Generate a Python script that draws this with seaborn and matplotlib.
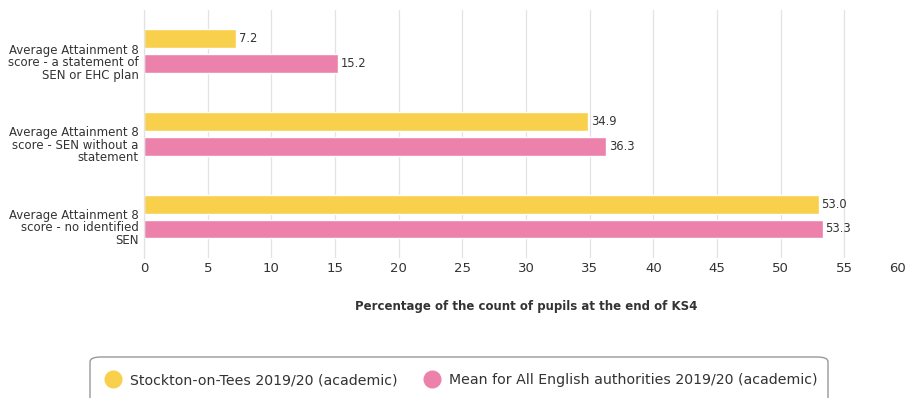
import matplotlib
matplotlib.use("Agg")
import matplotlib.pyplot as plt
import matplotlib.transforms as mtransforms
from matplotlib.lines import Line2D
from matplotlib.patches import FancyBboxPatch
import pandas as pd
import seaborn as sns

categories = [
    "Average Attainment 8\nscore - a statement of\nSEN or EHC plan",
    "Average Attainment 8\nscore - SEN without a\nstatement",
    "Average Attainment 8\nscore - no identified\nSEN",
]
series_names = [
    "Stockton-on-Tees 2019/20 (academic)",
    "Mean for All English authorities 2019/20 (academic)",
]
stockton = [7.2, 34.9, 53.0]
england_mean = [15.2, 36.3, 53.3]
x_ticks = [0, 5, 10, 15, 20, 25, 30, 35, 40, 45, 50, 55, 60]
x_label = "Percentage of the count of pupils at the end of KS4"

colors = ["#F8D04C", "#EC82AC"]
text_color = "#333333"

df = pd.DataFrame({
    "category": categories * 2,
    "series": [series_names[0]] * 3 + [series_names[1]] * 3,
    "value": stockton + england_mean,
})

sns.set_theme(style="white")
plt.rcParams["font.family"] = ["DejaVu Sans"]

fig = plt.figure(figsize=(9.07, 3.98), dpi=100)
ax = fig.add_axes([0.159, 0.352, 0.842, 0.623])

sns.barplot(
    data=df, y="category", x="value", hue="series", orient="h",
    palette=colors, width=0.6, gap=0.24, legend=False, ax=ax,
    saturation=1,
)

ax.set_xlim(0, 60)
ax.set_ylim(2.5, -0.5)
ax.set_xticks(x_ticks)
ax.set_xticklabels([str(t) for t in x_ticks], fontsize=9.5, color=text_color)
ax.tick_params(axis="x", length=0, pad=3)
ax.tick_params(axis="y", length=0, pad=4)

# keep the last tick label inside the canvas
last = ax.get_xticklabels()[-1]
last.set_horizontalalignment("right")
last.set_transform(last.get_transform() + mtransforms.ScaledTranslation(-0.02, 0, fig.dpi_scale_trans))

# category labels sit slightly below the centre of each bar pair
shift_down = mtransforms.ScaledTranslation(0, -0.10, fig.dpi_scale_trans)
for lbl in ax.get_yticklabels():
    lbl.set_fontsize(8.5)
    lbl.set_color(text_color)
    lbl.set_linespacing(0.95)
    lbl.set_horizontalalignment("right")
    lbl.set_transform(lbl.get_transform() + shift_down)
ax.set_ylabel("")
ax.set_xlabel(x_label, fontsize=8.5, fontweight="bold", color=text_color, labelpad=18)

ax.grid(axis="x", color="#e3e3e3", linewidth=0.9)
ax.set_axisbelow(True)
for side in ["top", "right", "bottom"]:
    ax.spines[side].set_visible(False)
ax.spines["left"].set_color("#e3e3e3")
ax.spines["left"].set_linewidth(0.9)

for container in ax.containers:
    ax.bar_label(container, fmt="%.1f", padding=2, fontsize=8.3, color=text_color)

# Legend box at the bottom of the figure
box = FancyBboxPatch(
    (90 / 907, -0.05), (828 - 90) / 907, (0.05 + 1 - 357 / 398),
    boxstyle="round,pad=0,rounding_size=0.012",
    transform=fig.transFigure, facecolor="white", edgecolor="#999999",
    linewidth=1.0, clip_on=False,
)
fig.add_artist(box)
handles = [
    Line2D([], [], marker="o", linestyle="none", markersize=12,
           markerfacecolor=c, markeredgecolor=c)
    for c in colors
]
fig.legend(
    handles, series_names, loc="center", ncol=2, frameon=False,
    bbox_to_anchor=(458 / 907, 1 - 380 / 398), fontsize=10.2,
    handletextpad=0.2, columnspacing=1.4, labelcolor=text_color,
)

fig.savefig("out.png", dpi=100)
